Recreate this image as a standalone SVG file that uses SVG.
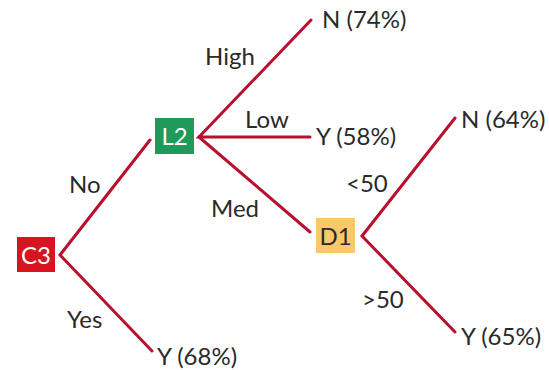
<svg xmlns="http://www.w3.org/2000/svg" width="549" height="370" viewBox="0 0 549 370">
  <style>
    .edge { fill: none; stroke: #b8102e; stroke-width: 3; stroke-linecap: round; stroke-linejoin: miter; }
    .lbl { font-family: Lato, "Open Sans", "Liberation Sans", sans-serif; font-size: 24px; fill: #2a2a2a; }
    .boxtxt { font-family: Lato, "Open Sans", "Liberation Sans", sans-serif; font-size: 24px; text-anchor: middle; }
  </style>
  <rect width="549" height="370" fill="#ffffff"/>

  <g id="connectors">
    <polyline class="edge" points="150,140 60,255 152,351"/>
    <polyline class="edge" points="311,20 199,137 310,137"/>
    <line class="edge" x1="199" y1="137" x2="310" y2="232"/>
    <polyline class="edge" points="455,118 362,236 455,332"/>
  </g>

  <g id="edge-labels">
    <text class="lbl" x="69" y="193">No</text>
    <text class="lbl" x="67" y="328">Yes</text>
    <text class="lbl" x="205" y="65">High</text>
    <text class="lbl" x="245" y="128">Low</text>
    <text class="lbl" x="211" y="217">Med</text>
    <text class="lbl" x="346" y="192">&lt;50</text>
    <text class="lbl" x="362" y="308">&gt;50</text>
  </g>

  <g id="C3">
    <rect x="17" y="237" width="38" height="35" fill="#d7141f"/>
    <text class="boxtxt" x="36" y="264" fill="#ffffff">C3</text>
  </g>

  <g id="L2">
    <rect x="155" y="118" width="39" height="36" fill="#1f9a5b"/>
    <text class="boxtxt" x="174.5" y="145" fill="#ffffff">L2</text>
  </g>

  <g id="D1">
    <rect x="316" y="218" width="39" height="35" fill="#fcc86b"/>
    <text class="boxtxt" x="335.5" y="245" fill="#2a2a2a">D1</text>
  </g>

  <g id="leaf-N74">
    <text class="lbl" x="322" y="28">N (74%)</text>
  </g>
  <g id="leaf-Y58">
    <text class="lbl" x="316" y="145">Y (58%)</text>
  </g>
  <g id="leaf-N64">
    <text class="lbl" x="461" y="128">N (64%)</text>
  </g>
  <g id="leaf-Y65">
    <text class="lbl" x="461" y="345">Y (65%)</text>
  </g>
  <g id="leaf-Y68">
    <text class="lbl" x="157" y="365">Y (68%)</text>
  </g>
</svg>
